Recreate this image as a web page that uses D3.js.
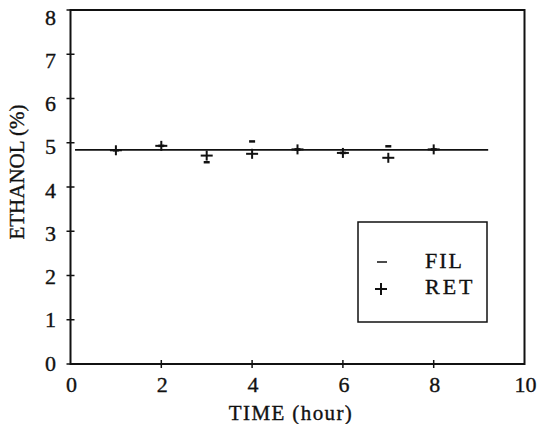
<!DOCTYPE html>
<html>
<head>
<meta charset="utf-8">
<title>Ethanol vs time</title>
<script src="https://cdn.jsdelivr.net/npm/d3@7"></script>
<style>
body { margin: 0; background: #fff; }
text { font-family: "Liberation Serif", "Times New Roman", serif; fill: #111; stroke: #111; stroke-width: 0.35px; }
</style>
</head>
<body>
<svg width="539" height="424"></svg>
<script>
// data
var hours = [1, 2, 3, 4, 5, 6, 7, 8];
var fil = [4.83, 4.93, 4.56, 5.03, 4.85, 4.77, 4.92, 4.85];
var ret = [4.83, 4.93, 4.71, 4.75, 4.85, 4.77, 4.66, 4.85];
var fitLevel = 4.84;
var fitRange = [0.1, 9.2];
var xTicks = [0, 2, 4, 6, 8, 10];
var yTicks = [0, 1, 2, 3, 4, 5, 6, 7, 8];

var svg = d3.select("svg");
var x = d3.scaleLinear().domain([0, 10]).range([70.5, 524.5]);
var y = d3.scaleLinear().domain([0, 8]).range([364, 10]);
// the printed y labels sit a little lower than their ticks near the top
var yLab = d3.scaleLinear().domain([0, 8]).range([363, 17]);

// frame
svg.append("rect")
  .attr("x", x(0)).attr("y", y(8))
  .attr("width", x(10) - x(0)).attr("height", y(0) - y(8))
  .attr("fill", "none").attr("stroke", "#111").attr("stroke-width", 2);

// ticks crossing the axes
svg.append("g").selectAll("line").data(yTicks).enter().append("line")
  .attr("x1", x(0) - 4).attr("x2", x(0) + 4)
  .attr("y1", function(d) { return y(d); }).attr("y2", function(d) { return y(d); })
  .attr("stroke", "#111").attr("stroke-width", 1.5);
svg.append("g").selectAll("line").data(xTicks.slice(1, -1)).enter().append("line")
  .attr("x1", function(d) { return x(d); }).attr("x2", function(d) { return x(d); })
  .attr("y1", y(0) - 4).attr("y2", y(0) + 4)
  .attr("stroke", "#111").attr("stroke-width", 1.5);

// tick labels
svg.append("g").selectAll("text").data(yTicks).enter().append("text")
  .attr("x", 56).attr("y", function(d) { return yLab(d) + 7.5; })
  .attr("text-anchor", "end").attr("font-size", 22)
  .text(function(d) { return d; });
svg.append("g").selectAll("text").data(xTicks).enter().append("text")
  .attr("x", function(d) { return x(d) + 1; }).attr("y", 392)
  .attr("text-anchor", "middle").attr("font-size", 22)
  .text(function(d) { return d; });

// axis titles
svg.append("text")
  .attr("x", 291).attr("y", 420)
  .attr("text-anchor", "middle").attr("font-size", 21)
  .attr("letter-spacing", 1.4)
  .text("TIME (hour)");
svg.append("text")
  .attr("transform", "translate(24,172) rotate(-90)")
  .attr("text-anchor", "middle").attr("font-size", 21)
  .text("ETHANOL (%)");

// fitted level
svg.append("line")
  .attr("x1", x(fitRange[0])).attr("x2", x(fitRange[1]))
  .attr("y1", y(fitLevel)).attr("y2", y(fitLevel))
  .attr("stroke", "#111").attr("stroke-width", 1.8);

// FIL markers (dash)
svg.append("g").selectAll("line").data(hours).enter().append("line")
  .attr("x1", function(d) { return x(d) - 3; }).attr("x2", function(d) { return x(d) + 3; })
  .attr("y1", function(d, i) { return y(fil[i]); }).attr("y2", function(d, i) { return y(fil[i]); })
  .attr("stroke", "#111").attr("stroke-width", 2.5);

// RET markers (plus)
var plus = svg.append("g").selectAll("g").data(hours).enter().append("g")
  .attr("transform", function(d, i) { return "translate(" + x(d) + "," + y(ret[i]) + ")"; });
plus.append("line").attr("x1", -6).attr("x2", 6).attr("y1", 0).attr("y2", 0)
  .attr("stroke", "#111").attr("stroke-width", 2);
plus.append("line").attr("x1", 0).attr("x2", 0).attr("y1", -5).attr("y2", 5)
  .attr("stroke", "#111").attr("stroke-width", 2);

// legend
var lg = svg.append("g");
lg.append("rect").attr("x", 358).attr("y", 222).attr("width", 129).attr("height", 100)
  .attr("fill", "#fff").attr("stroke", "#111").attr("stroke-width", 1.5);
lg.append("line").attr("x1", 377).attr("x2", 387).attr("y1", 262).attr("y2", 262)
  .attr("stroke", "#111").attr("stroke-width", 1.5);
lg.append("text").attr("x", 425).attr("y", 268).attr("font-size", 22)
  .attr("letter-spacing", 2).text("FIL");
lg.append("line").attr("x1", 375).attr("x2", 387).attr("y1", 289).attr("y2", 289)
  .attr("stroke", "#111").attr("stroke-width", 2);
lg.append("line").attr("x1", 381).attr("x2", 381).attr("y1", 283).attr("y2", 295)
  .attr("stroke", "#111").attr("stroke-width", 2);
lg.append("text").attr("x", 425).attr("y", 294).attr("font-size", 22)
  .attr("letter-spacing", 3).text("RET");
</script>
</body>
</html>
